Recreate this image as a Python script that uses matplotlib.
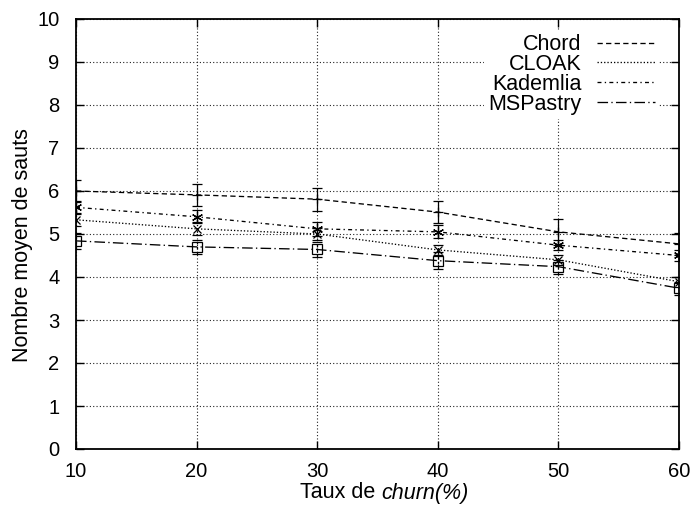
import matplotlib
matplotlib.use("Agg")
import matplotlib.pyplot as plt
from matplotlib.lines import Line2D

plt.rcParams['font.family'] = ['Liberation Sans', 'DejaVu Sans']

churn = [10, 20, 30, 40, 50, 60]
chord = [6.0, 5.91, 5.81, 5.51, 5.05, 4.77]
chord_err = [0.25, 0.25, 0.27, 0.26, 0.3, 0.25]
cloak = [5.33, 5.12, 5.0, 4.63, 4.40, 3.89]
cloak_err = [0.15, 0.15, 0.15, 0.12, 0.12, 0.12]
kademlia = [5.62, 5.40, 5.12, 5.05, 4.74, 4.50]
kademlia_err = [0.15, 0.15, 0.17, 0.15, 0.12, 0.12]
mspastry = [4.84, 4.70, 4.64, 4.38, 4.24, 3.74]
mspastry_err = [0.19, 0.17, 0.17, 0.2, 0.16, 0.15]

labels = ["Chord", "CLOAK", "Kademlia", "MSPastry"]
xticks = [10, 20, 30, 40, 50, 60]
yticks = list(range(0, 11))

W, H = 698, 508
fig = plt.figure(figsize=(W/100, H/100), dpi=100)
ax = fig.add_axes([76/W, 1-449/H, (679-76)/W, (449-19)/H])

series = [
    (chord, chord_err, (0, (4, 2.5)), 'solid', '+', 7),
    (cloak, cloak_err, (0, (1, 1.5)), (0, (1, 1.5)), 'x', 6),
    (kademlia, kademlia_err, (0, (3, 2.5, 1, 2.5)), (0, (3, 2.5, 1, 2.5)), (6, 2, 0), 8),
    (mspastry, mspastry_err, (0, (8, 2.5, 1, 2.5)), (0, (2, 2)), 's', 7),
]

handles = []
for (vals, err, ls, els, mk, ms), lab in zip(series, labels):
    ax.plot(churn, vals, color='black', lw=0.95, linestyle=ls, zorder=3)
    eb = ax.errorbar(churn, vals, yerr=err, fmt='none', ecolor='black', elinewidth=0.9,
                     capsize=3.5, capthick=0.9, zorder=3)
    for lc in eb[2]:
        lc.set_linestyle(els)
    ax.plot(churn, vals, linestyle='none', marker=mk, markersize=ms, color='black',
            markerfacecolor='none', markeredgewidth=0.9, zorder=4)
    handles.append(Line2D([], [], color='black', lw=0.95, linestyle=ls))

ax.set_xlim(10, 60)
ax.set_ylim(0, 10)
ax.set_xticks(xticks)
ax.set_yticks(yticks)
ax.grid(True, color='#222222', linestyle=(0, (1, 2)), linewidth=0.8)
ax.tick_params(direction='in', length=6, width=1, top=True, right=True,
               labelsize=14.5, color='black')
ax.tick_params(axis='y', pad=12)
ax.tick_params(axis='x', pad=9.5)
for s in ax.spines.values():
    s.set_linewidth(1.3)

ax.set_ylabel("Nombre moyen de sauts", fontsize=15.5)
ax.yaxis.set_label_coords((33 - 76) / (679 - 76), 0.475)

# x label with italic part
fig.canvas.draw()
r = fig.canvas.get_renderer()
t1 = fig.text(0, 15/H, "Taux de ", fontsize=15.5, ha='left', va='center')
t2 = fig.text(0, 15/H, "churn(%)", fontsize=15.5, style='italic', ha='left', va='center')
w1 = t1.get_window_extent(r).width
w2 = t2.get_window_extent(r).width
x0 = 384 - (w1 + w2) / 2
t1.set_x(x0 / W)
t2.set_x((x0 + w1) / W)

leg = ax.legend(handles, labels, loc='upper right', bbox_to_anchor=(0.985, 1.0),
                markerfirst=False, frameon=True, fontsize=15.5, handlelength=2.7,
                labelspacing=-0.05, borderpad=0.2, handletextpad=0.7,
                fancybox=False)
leg.get_frame().set_edgecolor('none')
leg.get_frame().set_facecolor('white')
leg.get_frame().set_alpha(1.0)
for t in leg.get_texts():
    t.set_ha('right')
leg._legend_box.align = "right"

fig.savefig("out.png", dpi=100)
